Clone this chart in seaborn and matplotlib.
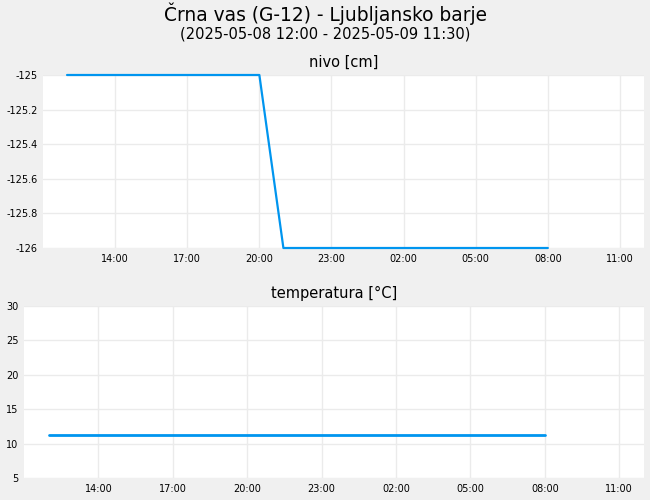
import pandas as pd
import matplotlib.pyplot as plt
import matplotlib.dates as mdates
import seaborn as sns

# measurement times, every 30 min
times = pd.date_range("2025-05-08 12:00", "2025-05-09 08:00", freq="30min")

# water level [cm]
nivo = [-125.0, -125.0, -125.0, -125.0, -125.0, -125.0, -125.0, -125.0, -125.0,
        -125.0, -125.0, -125.0, -125.0, -125.0, -125.0, -125.0, -125.0,
        -125.5,
        -126.0, -126.0, -126.0, -126.0, -126.0, -126.0, -126.0, -126.0, -126.0,
        -126.0, -126.0, -126.0, -126.0, -126.0, -126.0, -126.0, -126.0, -126.0,
        -126.0, -126.0, -126.0, -126.0, -126.0]

# temperature [°C]
temperatura = [11.2, 11.2, 11.2, 11.2, 11.2, 11.2, 11.2, 11.2, 11.2, 11.2, 11.2,
               11.2, 11.2, 11.2, 11.2, 11.2, 11.2, 11.2, 11.2, 11.2, 11.2, 11.2,
               11.2, 11.2, 11.2, 11.2, 11.2, 11.2, 11.2, 11.2, 11.2, 11.2, 11.2,
               11.2, 11.2, 11.2, 11.2, 11.2, 11.2, 11.2, 11.2]

title = "Črna vas (G-12) - Ljubljansko barje"
subtitle = "(2025-05-08 12:00 - 2025-05-09 11:30)"
x_start = pd.Timestamp("2025-05-08 11:00")
x_end = pd.Timestamp("2025-05-09 12:00")
x_ticks = pd.date_range("2025-05-08 14:00", "2025-05-09 11:00", freq="3h")

df = pd.DataFrame({"cas": times, "nivo": nivo, "temperatura": temperatura})

sns.set_style("whitegrid", {"axes.facecolor": "white", "figure.facecolor": "#f0f0f0",
                            "grid.color": "#ebebeb", "axes.edgecolor": "white",
                            "text.color": "black", "xtick.color": "black",
                            "ytick.color": "black"})
plt.rcParams["font.family"] = ["DejaVu Sans"]

line_color = "#0095ef"

fig = plt.figure(figsize=(6.5, 5), dpi=100)
fig.patch.set_facecolor("#f0f0f0")
ax1 = fig.add_axes([43 / 650, 1 - 248 / 500, 601 / 650, 173 / 500])
ax2 = fig.add_axes([24 / 650, 1 - 478 / 500, 620 / 650, 172 / 500])

sns.lineplot(data=df, x="cas", y="nivo", ax=ax1, color=line_color, linewidth=1.6,
             clip_on=False)
sns.lineplot(data=df, x="cas", y="temperatura", ax=ax2, color=line_color, linewidth=2)

ax1.set_ylim(-126, -125)
ax1.set_yticks([-126, -125.8, -125.6, -125.4, -125.2, -125])
ax1.set_yticklabels(["-126", "-125.8", "-125.6", "-125.4", "-125.2", "-125"])
ax2.set_ylim(5, 30)
ax2.set_yticks([5, 10, 15, 20, 25, 30])

for ax, name in [(ax1, "nivo [cm]"), (ax2, "temperatura [°C]")]:
    ax.set_xlim(x_start, x_end)
    ax.set_xticks(x_ticks)
    ax.xaxis.set_major_formatter(mdates.DateFormatter("%H:%M"))
    ax.set_xlabel("")
    ax.set_ylabel("")
    ax.set_title(name, fontsize=10.5, pad=6, color="black")
    ax.tick_params(axis="both", labelsize=7, length=0, pad=4, labelcolor="black")
    ax.grid(True, color="#ebebeb", linewidth=1)
    for s in ax.spines.values():
        s.set_visible(False)

fig.text(0.5, 1 - 14 / 500, title, ha="center", va="center", fontsize=13.4, color="black")
fig.text(0.5, 1 - 34 / 500, subtitle, ha="center", va="center", fontsize=10.5, color="black")

fig.savefig("out.png", dpi=100, facecolor=fig.get_facecolor())
